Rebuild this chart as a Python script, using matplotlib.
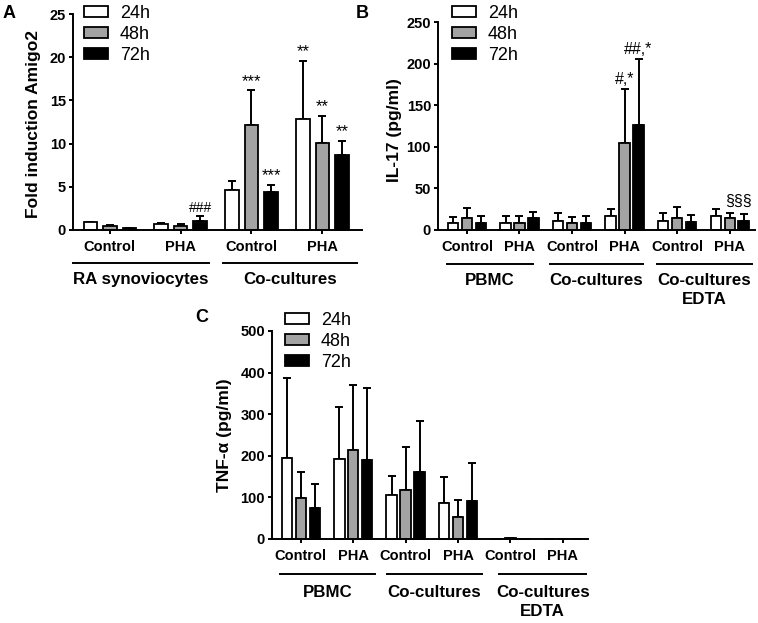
import numpy as np
import matplotlib

matplotlib.use("Agg")
import matplotlib.pyplot as plt

plt.rcParams["font.family"] = ["Liberation Sans", "DejaVu Sans"]

TIMES = ["24h", "48h", "72h"]
FILLS = ["white", "#a3a3a3", "black"]

# panel A: fold induction Amigo2 (mean, upper error)
A_TICKS = ["Control", "PHA", "Control", "PHA"]
A_GROUPS = ["RA synoviocytes", "Co-cultures"]
A_24 = [0.88, 0.73, 4.6, 12.8]
A_48 = [0.43, 0.50, 12.1, 10.05]
A_72 = [0.20, 1.00, 4.45, 8.65]
A_24_ERR = [0.05, 0.07, 1.05, 6.8]
A_48_ERR = [0.17, 0.15, 4.1, 3.2]
A_72_ERR = [0.05, 0.60, 0.8, 1.7]
A_MARKS = [(2, 1, "***"), (2, 2, "***"), (3, 0, "**"), (3, 1, "**"),
           (3, 2, "**"), (1, 2, "###")]

# panel B: IL-17 (pg/ml)
B_TICKS = ["Control", "PHA"] * 3
B_GROUPS = ["PBMC", "Co-cultures", "Co-cultures\nEDTA"]
B_24 = [9, 9, 11, 17, 11, 17]
B_48 = [14, 9, 9, 105, 14, 14]
B_72 = [9, 14, 9, 126, 10, 11]
B_24_ERR = [7, 8, 10, 8, 10, 8]
B_48_ERR = [13, 8, 7, 65, 14, 7]
B_72_ERR = [8, 8, 8, 80, 8, 8]
B_MARKS = [(3, 1, "#,*"), (3, 2, "##,*"), (5, 2, "§§§")]

# panel C: TNF-alpha (pg/ml)
C_TICKS = ["Control", "PHA"] * 3
C_GROUPS = ["PBMC", "Co-cultures", "Co-cultures\nEDTA"]
C_24 = [194, 192, 106, 86, 0, 0]
C_48 = [98, 214, 118, 54, 2, 0]
C_72 = [75, 190, 160, 92, 0, 0]
C_24_ERR = [192, 126, 46, 62, 0, 0]
C_48_ERR = [62, 156, 102, 40, 1, 0]
C_72_ERR = [57, 172, 124, 90, 0, 0]

LW = 1.4
# text size / small nudge (points) for the significance marks
MARK_SIZE = {"***": 12, "**": 12, "###": 10, "#,*": 11.5, "##,*": 11.5, "§§§": 11.5}
MARK_DX = {"§§§": -4}
MARK_DY = {"§§§": 3}


def bar_panel(ax, means, errs, pitch, width):
    x = np.arange(len(means[0]))
    pos_all = []
    for k, (m, e) in enumerate(zip(means, errs)):
        pos = x + (k - 1) * pitch
        pos_all.append(pos)
        ax.errorbar(pos, m, yerr=[np.zeros(len(m)), e], fmt="none",
                    ecolor="black", elinewidth=LW, capsize=3, capthick=LW,
                    zorder=1, clip_on=False)
        ax.bar(pos, m, width, color=FILLS[k], edgecolor="black",
               linewidth=1.3, label=TIMES[k], zorder=2, clip_on=False)
    return pos_all


def style(ax, ticks, ylim, yticks, xlim):
    ax.set_xlim(*xlim)
    ax.set_ylim(*ylim)
    ax.set_yticks(yticks)
    ax.set_xticks(range(len(ticks)), ticks)
    for s in ("top", "right"):
        ax.spines[s].set_visible(False)
    for s in ("left", "bottom"):
        ax.spines[s].set_linewidth(LW)
    ax.tick_params(width=LW, length=3, labelsize=10.5)
    ax.tick_params(axis="x", pad=4.5)
    ax.tick_params(axis="y", pad=2)
    for lbl in ax.get_xticklabels() + ax.get_yticklabels():
        lbl.set_fontweight("bold")


def group_labels(ax, names, spans, line_y, text_y):
    tr = ax.get_xaxis_transform()
    for name, (x0, x1) in zip(names, spans):
        ax.plot([x0, x1], [line_y, line_y], color="black", lw=LW,
                transform=tr, clip_on=False)
        # one text per line so the first line sits on the same baseline
        for i, part in enumerate(name.split("\n")):
            ax.annotate(part, ((x0 + x1) / 2, text_y), xycoords=tr,
                        xytext=(0, -13.5 * i), textcoords="offset points",
                        ha="center", va="baseline", fontsize=12.2,
                        fontweight="bold", annotation_clip=False)


def marks(ax, pos, means, errs, items):
    for g, k, txt in items:
        top = means[k][g] + errs[k][g]
        ax.annotate(txt, (pos[k][g], top),
                    xytext=(MARK_DX.get(txt, 0), 1 + MARK_DY.get(txt, 0)),
                    textcoords="offset points", ha="center", va="bottom",
                    fontsize=MARK_SIZE.get(txt, 11.5))


def legend(ax, fig, x, y):
    ax.legend(loc="upper left", bbox_to_anchor=(x, y),
              bbox_transform=fig.transFigure, frameon=False, borderpad=0,
              borderaxespad=0, handlelength=1.35, handleheight=0.6,
              handletextpad=0.65, labelspacing=0.22, fontsize=13)


W, H = 758, 623
fig = plt.figure(figsize=(W / 100, H / 100), dpi=100)

# --- A
axA = fig.add_axes([73 / W, 1 - 230 / H, 289 / W, 216 / H])
mA = [A_24, A_48, A_72]
eA = [A_24_ERR, A_48_ERR, A_72_ERR]
pA = bar_panel(axA, mA, eA, pitch=0.276, width=0.19)
style(axA, A_TICKS, (0, 25), range(0, 26, 5), (-0.52, 3.56))
axA.set_ylabel("Fold induction Amigo2", fontsize=12.5, fontweight="bold",
               va="center")
axA.yaxis.set_label_coords(-0.138, 0.49)
group_labels(axA, A_GROUPS, [(-0.52, 1.40), (1.60, 3.49)], -0.153, -0.25)
marks(axA, pA, mA, eA, A_MARKS)
legend(axA, fig, 84 / W, 1 - 5 / H)

# --- B
axB = fig.add_axes([438 / W, 1 - 230 / H, 317 / W, 208 / H])
mB = [B_24, B_48, B_72]
eB = [B_24_ERR, B_48_ERR, B_72_ERR]
pB = bar_panel(axB, mB, eB, pitch=0.266, width=0.2)
style(axB, B_TICKS, (0, 250), range(0, 251, 50), (-0.55, 5.48))
axB.set_ylabel("IL-17 (pg/ml)", fontsize=12.5, fontweight="bold",
               va="center")
axB.yaxis.set_label_coords(-0.136, 0.48)
group_labels(axB, B_GROUPS, [(-0.38, 1.25), (1.58, 3.35), (3.61, 5.42)],
             -0.163, -0.264)
marks(axB, pB, mB, eB, B_MARKS)
legend(axB, fig, 452 / W, 1 - 5 / H)

# --- C
axC = fig.add_axes([272 / W, 1 - 539 / H, 316 / W, 208 / H])
mC = [C_24, C_48, C_72]
eC = [C_24_ERR, C_48_ERR, C_72_ERR]
bar_panel(axC, mC, eC, pitch=0.266, width=0.2)
style(axC, C_TICKS, (0, 500), range(0, 501, 100), (-0.55, 5.48))
axC.set_ylabel("TNF-α (pg/ml)", fontsize=12.5, fontweight="bold",
               va="center")
axC.yaxis.set_label_coords(-0.149, 0.5)
group_labels(axC, C_GROUPS, [(-0.40, 1.41), (1.65, 3.45), (3.78, 5.45)],
             -0.168, -0.279)
legend(axC, fig, 285 / W, 1 - 312 / H)

for letter, x, y in (("A", 3, 14), ("B", 356, 14), ("C", 195, 318)):
    fig.text(x / W, 1 - y / H, letter, fontsize=13, fontweight="bold",
             va="center")

fig.savefig("out.png", dpi=100)
